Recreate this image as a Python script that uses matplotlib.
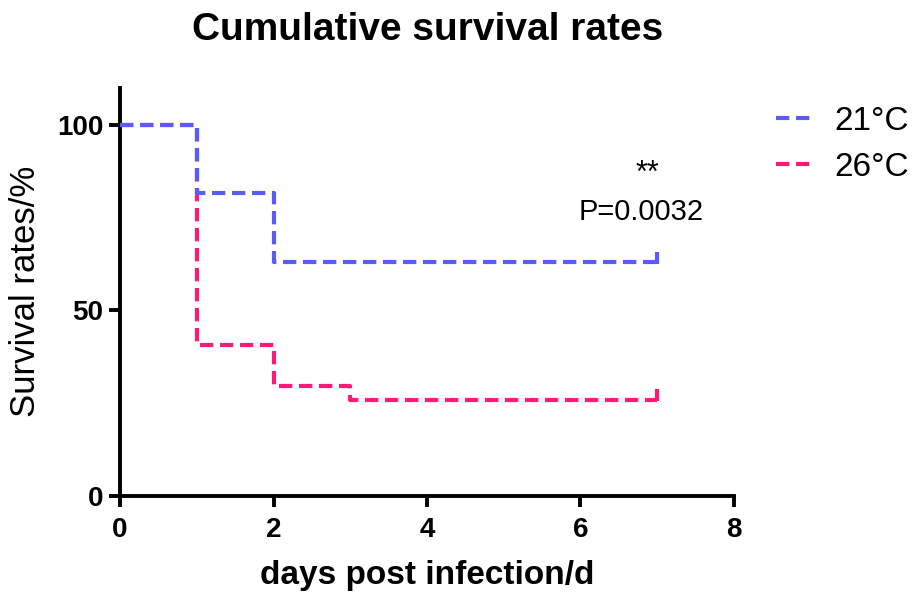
import matplotlib
matplotlib.use("Agg")
import matplotlib.pyplot as plt

BLUE = "#5a5aff"
PINK = "#ff1a78"

plt.rcParams.update({
    "font.family": "Liberation Sans",
    "font.size": 14,
})

days_21 = [0, 1, 2, 7]
surv_21 = [100, 81.5, 63, 63]
days_26 = [0, 1, 2, 3, 7]
surv_26 = [100, 40.7, 29.6, 25.9, 25.9]
groups = ["21°C", "26°C"]

fig = plt.figure(figsize=(9.24, 5.93), dpi=100)
ax = fig.add_axes([0.130, 0.164, 0.664, 0.688])

# pink drawn first so blue sits on top where they overlap
for d, s, c, lab, z in [(days_26, surv_26, PINK, groups[1], 2),
                        (days_21, surv_21, BLUE, groups[0], 3)]:
    ax.step(d, s, where="post", color=c, linestyle=(0, (3.2, 1.6)),
            linewidth=3, label=lab, zorder=z)
    # censor tick at end of follow-up
    ax.plot([d[-1]], [s[-1] + 1.2], marker="|", color=c, markersize=8,
            markeredgewidth=3, zorder=z)

ax.set_xlim(0, 8)
ax.set_ylim(0, 110)
ax.set_xticks([0, 2, 4, 6, 8])
ax.set_yticks([0, 50, 100])
for sp in ["top", "right"]:
    ax.spines[sp].set_visible(False)
for sp in ["left", "bottom"]:
    ax.spines[sp].set_linewidth(2.8)
ax.tick_params(width=2.8, length=8, labelsize=20, pad=4)
ax.tick_params(axis="x", pad=7)
for t in ax.get_xticklabels() + ax.get_yticklabels():
    t.set_fontweight("bold")

ax.set_xlabel("days post infection/d", fontsize=24, fontweight="bold")
ax.set_ylabel("Survival rates/%", fontsize=25)
ax.yaxis.set_label_coords(-0.128, 0.50)
ax.xaxis.set_label_coords(0.50, -0.158)
fig.suptitle("Cumulative survival rates", fontsize=28, fontweight="bold",
             x=0.463, y=0.98)

ax.text(6.88, 86.8, "**", ha="center", va="center", fontsize=22)
ax.text(6.80, 76.5, "P=0.0032", ha="center", va="center", fontsize=21)

handles, labels = ax.get_legend_handles_labels()
ax.legend(handles[::-1], labels[::-1], loc="upper left",
          bbox_to_anchor=(1.02, 1.03), frameon=False,
          fontsize=24, handlelength=1.2, handletextpad=0.55, labelspacing=0.45)

fig.savefig("out.png", dpi=100)
